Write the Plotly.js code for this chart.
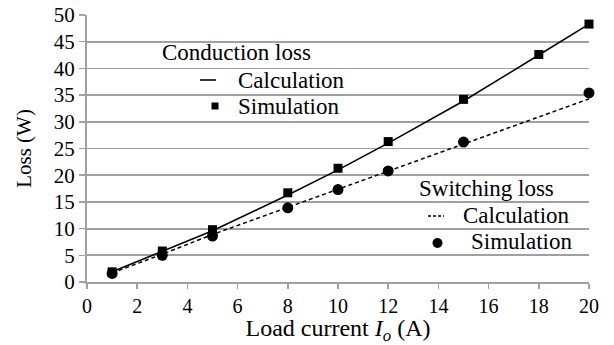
<!DOCTYPE html>
<html>
<head>
<meta charset="utf-8">
<script src="https://cdn.plot.ly/plotly-3.0.1.min.js"></script>
<style>html,body{margin:0;padding:0;background:#fff}#chart{width:614px;height:345px}</style>
</head>
<body>
<div id="chart"></div>
<script>
// Data
const loadCurrent = [1, 3, 5, 8, 10, 12, 15, 18, 20];
const condCalc = [1.9, 5.7, 9.6, 16.3, 21.0, 26.0, 33.9, 42.5, 48.3];
const condSim  = [1.9, 5.8, 9.8, 16.7, 21.3, 26.3, 34.2, 42.6, 48.3];
const swCalcX  = [1, 3, 5, 8, 10, 12, 15, 18, 20];
const swCalc   = [1.7, 5.2, 8.9, 14.0, 17.3, 20.8, 25.8, 30.9, 34.3];
const swSimX   = [1, 3, 5, 8, 10, 12, 15, 20];
const swSim    = [1.6, 5.0, 8.6, 13.9, 17.3, 20.8, 26.2, 35.4];
const xTicks = [0, 2, 4, 6, 8, 10, 12, 14, 16, 18, 20];
const yTicks = [0, 5, 10, 15, 20, 25, 30, 35, 40, 45, 50];

const W = 614, H = 345;
const M = {l: 87, r: 25, t: 15, b: 63};
const pw = W - M.l - M.r, ph = H - M.t - M.b;
const px = v => (v - M.l) / pw;
const py = v => (H - M.b - v) / ph;
const FONT = 'Liberation Serif, Times New Roman, serif';

const traces = [
  {x: loadCurrent, y: condCalc, mode: 'lines', line: {color: '#000', width: 1.6}, showlegend: false, cliponaxis: false},
  {x: loadCurrent, y: condSim, mode: 'markers', marker: {symbol: 'square', size: 9, color: '#000'}, showlegend: false, cliponaxis: false},
  {x: swCalcX, y: swCalc, mode: 'lines', line: {color: '#000', width: 1.5, dash: '4px,3px'}, showlegend: false, cliponaxis: false},
  {x: swSimX, y: swSim, mode: 'markers', marker: {symbol: 'circle', size: 11, color: '#000'}, showlegend: false, cliponaxis: false}
];

const ann = (text, xl, yc) => ({text, xref: 'paper', yref: 'paper', x: px(xl), y: py(yc),
  xanchor: 'left', yanchor: 'middle', showarrow: false, font: {family: FONT, size: 23, color: '#000'}});

const layout = {
  width: W, height: H,
  margin: M,
  paper_bgcolor: '#fff', plot_bgcolor: '#fff',
  font: {family: FONT, color: '#000', size: 20},
  showlegend: false,
  xaxis: {
    range: [0, 20], tickvals: xTicks, ticktext: xTicks.map(String),
    showgrid: false, zeroline: false, showline: true, linecolor: '#a0a0a0', linewidth: 2,
    ticks: 'outside', ticklen: 5, tickcolor: '#a0a0a0', tickwidth: 1.5,
    tickfont: {family: FONT, size: 20, color: '#000'},
    title: {text: 'Load current <i>I<sub>o</sub></i> (A)', font: {family: FONT, size: 24, color: '#000'}, standoff: 3}
  },
  yaxis: {
    range: [0, 50], tickvals: yTicks, ticktext: yTicks.map(String),
    showgrid: true, gridcolor: '#a0a0a0', gridwidth: 1.8, zeroline: false,
    showline: true, linecolor: '#a0a0a0', linewidth: 2,
    ticks: 'outside', ticklen: 6, tickcolor: '#a0a0a0', tickwidth: 1.5,
    tickfont: {family: FONT, size: 21, color: '#000'},
    title: {text: 'Loss (W)', font: {family: FONT, size: 21, color: '#000'}, standoff: 16}
  },
  annotations: [
    ann('Conduction loss', 160, 52),
    ann('Calculation', 236, 80),
    ann('Simulation', 236, 106),
    ann('Switching loss', 417, 188),
    ann('Calculation', 461, 215),
    ann('Simulation', 469, 241)
  ],
  shapes: [
    {type: 'line', xref: 'paper', yref: 'paper', x0: px(200), x1: px(216), y0: py(80), y1: py(80), line: {color: '#000', width: 1.6}},
    {type: 'rect', xref: 'paper', yref: 'paper', x0: px(211.5), x1: px(218.5), y0: py(109.5), y1: py(102.5), line: {width: 0}, fillcolor: '#000'},
    {type: 'line', xref: 'paper', yref: 'paper', x0: px(428), x1: px(444), y0: py(216), y1: py(216), line: {color: '#000', width: 1.5, dash: '3px,2px'}},
    {type: 'circle', xref: 'paper', yref: 'paper', x0: px(432.5), x1: px(442.5), y0: py(248), y1: py(238), line: {width: 0}, fillcolor: '#000'}
  ]
};

Plotly.newPlot('chart', traces, layout, {displayModeBar: false, staticPlot: true});
</script>
</body>
</html>
